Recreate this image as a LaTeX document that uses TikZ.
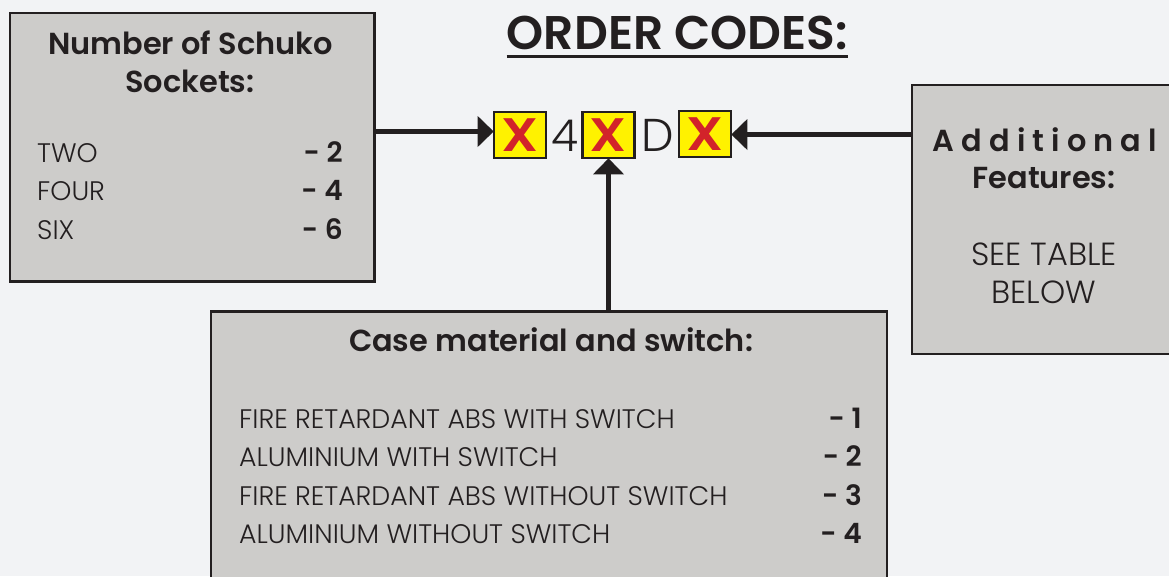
\documentclass[tikz,border=0pt]{standalone}
\usepackage{fontspec}
\setmainfont{Poppins}
\newfontfamily\lightf{Poppins Light}
\newfontfamily\semif{Poppins SemiBold}
\usetikzlibrary{arrows.meta}
\definecolor{bg}{HTML}{F2F3F5}
\definecolor{boxgrey}{HTML}{CDCCCA}
\definecolor{ink}{HTML}{231F20}
\definecolor{xyellow}{HTML}{FFF200}
\definecolor{xred}{HTML}{D2232A}
\tikzset{
  panel/.style={draw=ink,line width=2.4pt,fill=boxgrey,inner sep=0pt,outer sep=0pt,anchor=north west},
  xbox/.style={draw=ink,line width=2.6pt,fill=xyellow,inner sep=0pt,outer sep=1.3pt,minimum width=52pt,minimum height=46pt,text=xred,font=\fontsize{47}{47}\semif},
  head/.style={text=ink,font=\fontsize{30.4}{30.4}\semif,inner sep=0pt,anchor=base},
  item/.style={text=ink,font=\fontsize{26.8}{26.8}\lightf,inner sep=0pt,anchor=base west},
  code/.style={text=ink,font=\fontsize{28}{28}\semif,inner sep=0pt,anchor=base east},
  mid/.style={text=ink,font=\fontsize{32}{32}\lightf,inner sep=0pt,anchor=base},
  conn/.style={draw=ink,line width=5.4pt,-{Triangle[length=16pt,width=30pt]},shorten >=-1pt},
}
\begin{document}
\begin{tikzpicture}[x=1pt,y=-1pt]
\useasboundingbox (0,0) rectangle (1169,576);
\clip (0,0) rectangle (1169,576);
\fill[bg] (0,0) rectangle (1169,576);
\node[panel,minimum width=364.8pt,minimum height=268.3pt] (left) at (9.7,13.2) {};
\node[panel,minimum width=676pt,minimum height=280pt] (bottom) at (211,311.5) {};
\node[panel,minimum width=280pt,minimum height=269.3pt] (right) at (911.7,84.7) {};
\node[xbox] (x1) at (520,135) {\scalebox{1.15}[1]{X}};
\node[xbox] (x2) at (608.5,135) {\scalebox{1.15}[1]{X}};
\node[xbox] (x3) at (705,134) {\scalebox{1.15}[1]{X}};
\node[text=ink,inner sep=0pt,anchor=base,font=\fontsize{44}{44}\lightf] (d4) at (564.5,151) {4};
\node[text=ink,inner sep=0pt,anchor=base,font=\fontsize{46}{46}\lightf] (dD) at (657.5,151) {D};
\coordinate (la) at (375,131.5);
\coordinate (ra) at (912,134.5);
\draw[conn] (la) -- (la -| x1.west);
\draw[conn] (ra) -- (ra -| x3.east);
\draw[conn] (bottom.north -| x2.south) -- (x2.south);
\node[text=ink,inner sep=0pt,anchor=base,font=\fontsize{47.2}{47.2}\semif] (title) at (677.5,49.5) {ORDER CODES:};
\draw[ink,line width=3pt] ([yshift=-6.5pt]title.base west) -- ([yshift=-6.5pt]title.base east);
\node[head] (lh1) at (190.5,54) {Number of Schuko};
\node[head] (lh2) at (190,92) {Sockets:};
\node[item] (l1) at (37,162) {TWO};
\node[item] (l2) at (37,200) {FOUR};
\node[item] (l3) at (37,239) {SIX};
\node[code] (c1) at (343,162) {- 2};
\node[code] (c2) at (343,200) {- 4};
\node[code] (c3) at (343,239) {- 6};
\node[head] (rh1) at (1045,151) {A\hspace{7.1pt}d\hspace{7.1pt}d\hspace{7.1pt}i\hspace{7.1pt}t\hspace{7.1pt}i\hspace{7.1pt}o\hspace{7.1pt}n\hspace{7.1pt}a\hspace{7.1pt}l};
\node[head] (rh2) at (1044,188) {Features:};
\node[mid] (r1) at (1044,265) {SEE TABLE};
\node[mid] (r2) at (1044,303) {BELOW};
\node[head,anchor=base] (bh) at (551,351) {Case material and switch:};
\node[item] (b1) at (239,428) {FIRE RETARDANT ABS WITH SWITCH};
\node[item] (b2) at (239,466) {ALUMINIUM WITH SWITCH};
\node[item] (b3) at (239,505) {FIRE RETARDANT ABS WITHOUT SWITCH};
\node[item] (b4) at (239,543) {ALUMINIUM WITHOUT SWITCH};
\node[code] (e1) at (862,428) {- 1};
\node[code] (e2) at (862,466) {- 2};
\node[code] (e3) at (862,505) {- 3};
\node[code] (e4) at (862,543) {- 4};
\end{tikzpicture}
\end{document}
